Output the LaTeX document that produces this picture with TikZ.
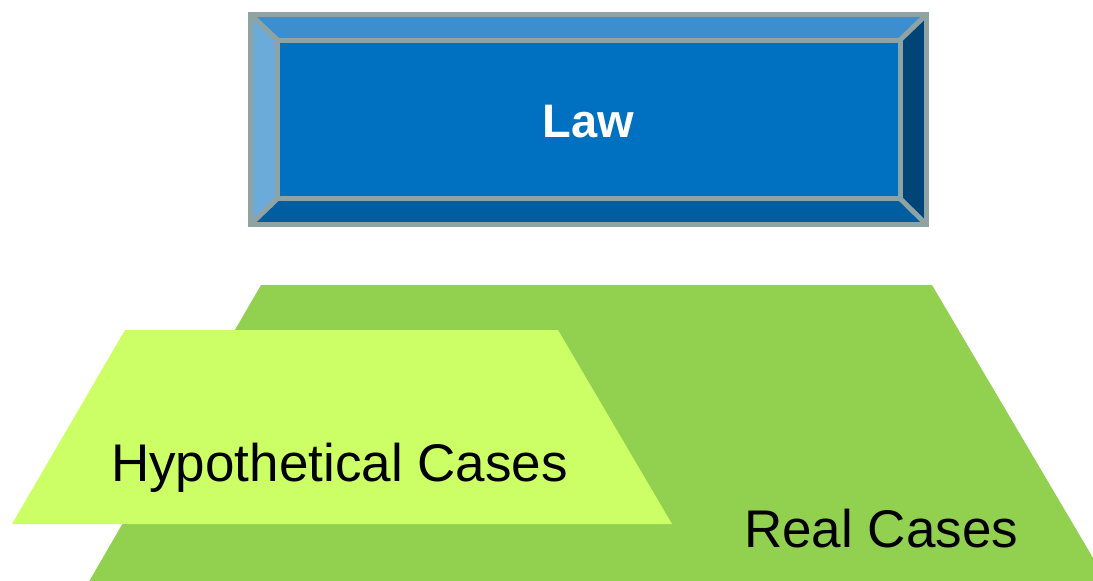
\documentclass[tikz,border=0pt]{standalone}
\usepackage{fontspec}
\setmainfont{Liberation Sans}
\definecolor{bevgray}{HTML}{8FA3A5}
\definecolor{bevtop}{HTML}{3D8ECF}
\definecolor{bevleft}{HTML}{6AABDA}
\definecolor{bevright}{HTML}{004478}
\definecolor{bevbottom}{HTML}{005DA0}
\definecolor{bevcenter}{HTML}{0070C0}
\definecolor{realgreen}{HTML}{92D050}
\definecolor{hypogreen}{HTML}{CCFF66}
\tikzset{
  bevline/.style={draw=bevgray, line width=5pt, line join=miter},
  casetext/.style={anchor=base west, inner sep=0pt, font=\fontsize{53}{60}\selectfont, text=black},
  lawtext/.style={anchor=base, inner sep=0pt, font=\fontsize{47}{54}\selectfont\bfseries, text=white}
}
\begin{document}
\begin{tikzpicture}[x=1pt,y=-1pt]
\useasboundingbox (0,0) rectangle (1093,581);
\begin{scope}
\clip (0,0) rectangle (1093,581);
% real cases shape
\fill[realgreen] (261,285) -- (932,285) -- (1109,585) -- (87,585) -- cycle;
% hypothetical cases shape
\fill[hypogreen] (125,330) -- (558,330) -- (672,524) -- (12,524) -- cycle;
\end{scope}
% bevel box
\coordinate (o1) at (250.5,14.5);
\coordinate (o2) at (926.5,14.5);
\coordinate (o3) at (926.5,224.5);
\coordinate (o4) at (250.5,224.5);
\coordinate (i1) at (277.5,40);
\coordinate (i2) at (900,40);
\coordinate (i3) at (900,198.5);
\coordinate (i4) at (277.5,198.5);
\fill[bevtop] (o1) -- (o2) -- (i2) -- (i1) -- cycle;
\fill[bevright] (o2) -- (o3) -- (i3) -- (i2) -- cycle;
\fill[bevbottom] (o3) -- (o4) -- (i4) -- (i3) -- cycle;
\fill[bevleft] (o4) -- (o1) -- (i1) -- (i4) -- cycle;
\fill[bevcenter] (i1) rectangle (i3);
\draw[bevline] (o1) rectangle (o3);
\draw[bevline] (i1) rectangle (i3);
\draw[bevline] (o1) -- (i1) (o2) -- (i2) (o3) -- (i3) (o4) -- (i4);
\node[lawtext] (law) at (588.5,137) {Law};
\node[casetext] (hypo) at (111,481) {Hypothetical Cases};
\node[casetext] (real) at (744,547) {Real Cases};
\end{tikzpicture}
\end{document}
